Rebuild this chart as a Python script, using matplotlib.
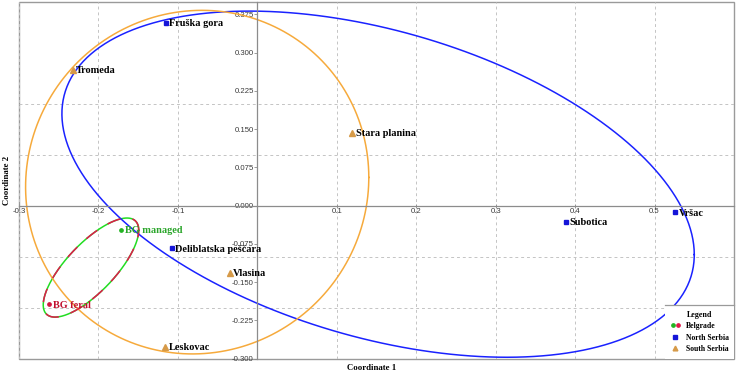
import matplotlib
matplotlib.use('Agg')
import matplotlib.pyplot as plt
import numpy as np
from matplotlib.ticker import FixedLocator, FixedFormatter
from matplotlib.lines import Line2D
from matplotlib.patches import Rectangle
from matplotlib.legend_handler import HandlerTuple

# ---------------- data ----------------
site_names = ["Fruška gora", "Deliblatska peščara", "Subotica", "Vršac",
              "Tromeda", "Stara planina", "Vlasina", "Leskovac",
              "BG managed", "BG feral"]
coord1 = [-0.1155, -0.108, 0.388, 0.526,
          -0.2325, 0.1197, -0.0346, -0.1164,
          -0.1713, -0.262]
coord2 = [0.359, -0.0837, -0.0314, -0.013,
          0.2665, 0.1433, -0.1316, -0.277,
          -0.0477, -0.1936]
site_group = ["North Serbia"] * 4 + ["South Serbia"] * 4 + ["Belgrade"] * 2

group_names = ["Belgrade", "North Serbia", "South Serbia"]
ellipse_cx = [-0.2094, 0.152, -0.0757]
ellipse_cy = [-0.1216, 0.042, 0.046]
ellipse_sxx = [0.003612, 0.1584, 0.04666]
ellipse_syy = [0.009448, 0.1153, 0.1136]
ellipse_sxy = [0.0044, -0.055, 0.002]

x_ticks = [-0.3, -0.2, -0.1, 0.1, 0.2, 0.3, 0.4, 0.5]
x_tick_labels = ["-0.3", "-0.2", "-0.1", "0.1", "0.2", "0.3", "0.4", "0.5"]
y_ticks = [0.375, 0.300, 0.225, 0.150, 0.075, 0.000, -0.075, -0.150, -0.225, -0.300]
y_tick_labels = ["0.375", "0.300", "0.225", "0.150", "0.075", "0.000",
                 "-0.075", "-0.150", "-0.225", "-0.300"]
grid_y = [-0.2, -0.1, 0.1, 0.2, 0.3]

# ---------------- styles ----------------
SERIF = ['Liberation Serif', 'DejaVu Serif']
SANS = ['Liberation Sans', 'DejaVu Sans']
line_color = {"Belgrade": "#22dd22", "North Serbia": "#1a22ff", "South Serbia": "#f6aa3c"}
marker_style = {"North Serbia": dict(marker='s', color='#1515d8', ms=3.0),
                "South Serbia": dict(marker='^', color='#d69a48', ms=3.8)}
point_color = {"BG managed": "#22b422", "BG feral": "#d0153f"}
text_color = {"BG managed": "#2aa52a", "BG feral": "#c0102e"}
grid_kw = dict(linestyle=(0, (3, 3)), color='#c4c4c4', lw=0.7)

fig = plt.figure(figsize=(7.36, 3.74), dpi=100)
W, H = 736, 374
ax = fig.add_axes([19 / W, (H - 358.5) / H, (734 - 19) / W, (358.5 - 1.7) / H])
ax.set_xlim(-0.3, 0.6)
ax.set_ylim(-0.3, 0.4)

ax.xaxis.set_major_locator(FixedLocator(x_ticks))
ax.xaxis.set_major_formatter(FixedFormatter(x_tick_labels))
ax.yaxis.set_major_locator(FixedLocator(y_ticks))
ax.yaxis.set_major_formatter(FixedFormatter(y_tick_labels))
ax.yaxis.set_minor_locator(FixedLocator(grid_y))

# grid: vertical at x major ticks, horizontal at 0.1 steps
ax.xaxis.grid(True, which='major', **grid_kw)
ax.yaxis.grid(True, which='minor', **grid_kw)
ax.yaxis.grid(False, which='major')
ax.set_axisbelow(True)

# spines through origin
for s in ['left', 'bottom']:
    ax.spines[s].set_position('zero')
    ax.spines[s].set_color('#8c8c8c')
    ax.spines[s].set_linewidth(0.9)
for s in ['top', 'right']:
    ax.spines[s].set_visible(False)
ax.add_patch(Rectangle((0, 0), 1, 1, transform=ax.transAxes, fill=False,
                       edgecolor='#9a9a9a', lw=1.0, clip_on=False, zorder=0.5))

ax.tick_params(which='minor', length=0)
ax.tick_params(axis='x', which='major', direction='inout', length=3, width=0.6,
               color='#8c8c8c', labelsize=5.6, labelcolor='#3a3a3a', pad=0.5)
ax.tick_params(axis='y', which='major', direction='out', length=2, width=0.6,
               color='#8c8c8c', labelsize=5.6, labelcolor='#3a3a3a', pad=0.5)
for lab in ax.get_xticklabels() + ax.get_yticklabels():
    lab.set_fontfamily(SANS)

# ellipses
t = np.linspace(0, 2 * np.pi, 400)
for i, g in enumerate(group_names):
    l00 = np.sqrt(ellipse_sxx[i])
    l10 = ellipse_sxy[i] / l00
    l11 = np.sqrt(ellipse_syy[i] - l10 ** 2)
    ex = ellipse_cx[i] + l00 * np.cos(t)
    ey = ellipse_cy[i] + l10 * np.cos(t) + l11 * np.sin(t)
    ax.plot(ex, ey, color=line_color[g], lw=1.1, zorder=2)
    if g == "Belgrade":
        ax.plot(ex, ey, color='#e0194a', lw=1.1, zorder=2.1,
                linestyle=(0, (9, 8)))

# points and labels
for name, x, y, g in zip(site_names, coord1, coord2, site_group):
    if g == "Belgrade":
        ax.plot(x, y, marker='o', color=point_color[name], ms=2.4, ls='none', zorder=3)
        tc = text_color[name]
    else:
        st = marker_style[g]
        ax.plot(x, y, marker=st['marker'], color=st['color'], ms=st['ms'], ls='none', zorder=3)
        tc = 'black'
    ax.annotate(name, (x, y), xytext=(3.5, -1), textcoords='offset pixels',
                ha='left', va='center', fontsize=7.4, fontweight='bold',
                family=SERIF, color=tc, zorder=4)

# legend
h_bg = (Line2D([], [], marker='o', color='#22b422', ms=2.4, ls='none'),
        Line2D([], [], marker='o', color='#e0194a', ms=2.4, ls='none'))
h_ns = Line2D([], [], marker='s', color='#1515d8', ms=2.8, ls='none')
h_ss = Line2D([], [], marker='^', color='#d69a48', ms=3.4, ls='none')
leg = ax.legend([h_bg, h_ns, h_ss], group_names, loc='lower right',
                bbox_to_anchor=(1, 0), borderaxespad=0,
                handler_map={tuple: HandlerTuple(ndivide=None, pad=0)},
                prop=dict(family=SERIF, weight='bold', size=5.6),
                title='Legend', title_fontproperties=dict(family=SERIF, weight='bold', size=5.8),
                frameon=True, fancybox=False, framealpha=1, facecolor='white',
                edgecolor='none', handlelength=1.3, handletextpad=0.7,
                borderpad=0.7, labelspacing=0.45)
leg.set_zorder(10)

# axis titles
fig.text(372 / W, 1 - 368 / H, "Coordinate 1", ha='center', va='center',
         fontsize=6.3, fontweight='bold', family=SERIF)
fig.text(7 / W, 1 - 180 / H, "Coordinate 2", ha='center', va='center', rotation=90,
         fontsize=6.3, fontweight='bold', family=SERIF)

fig.canvas.draw()
bb = leg.get_window_extent().transformed(fig.transFigure.inverted())
fig.add_artist(Line2D([bb.x0, bb.x1], [bb.y1, bb.y1], transform=fig.transFigure,
                      color='#9a9a9a', lw=0.9, zorder=11))

fig.savefig('out.png', dpi=100)
